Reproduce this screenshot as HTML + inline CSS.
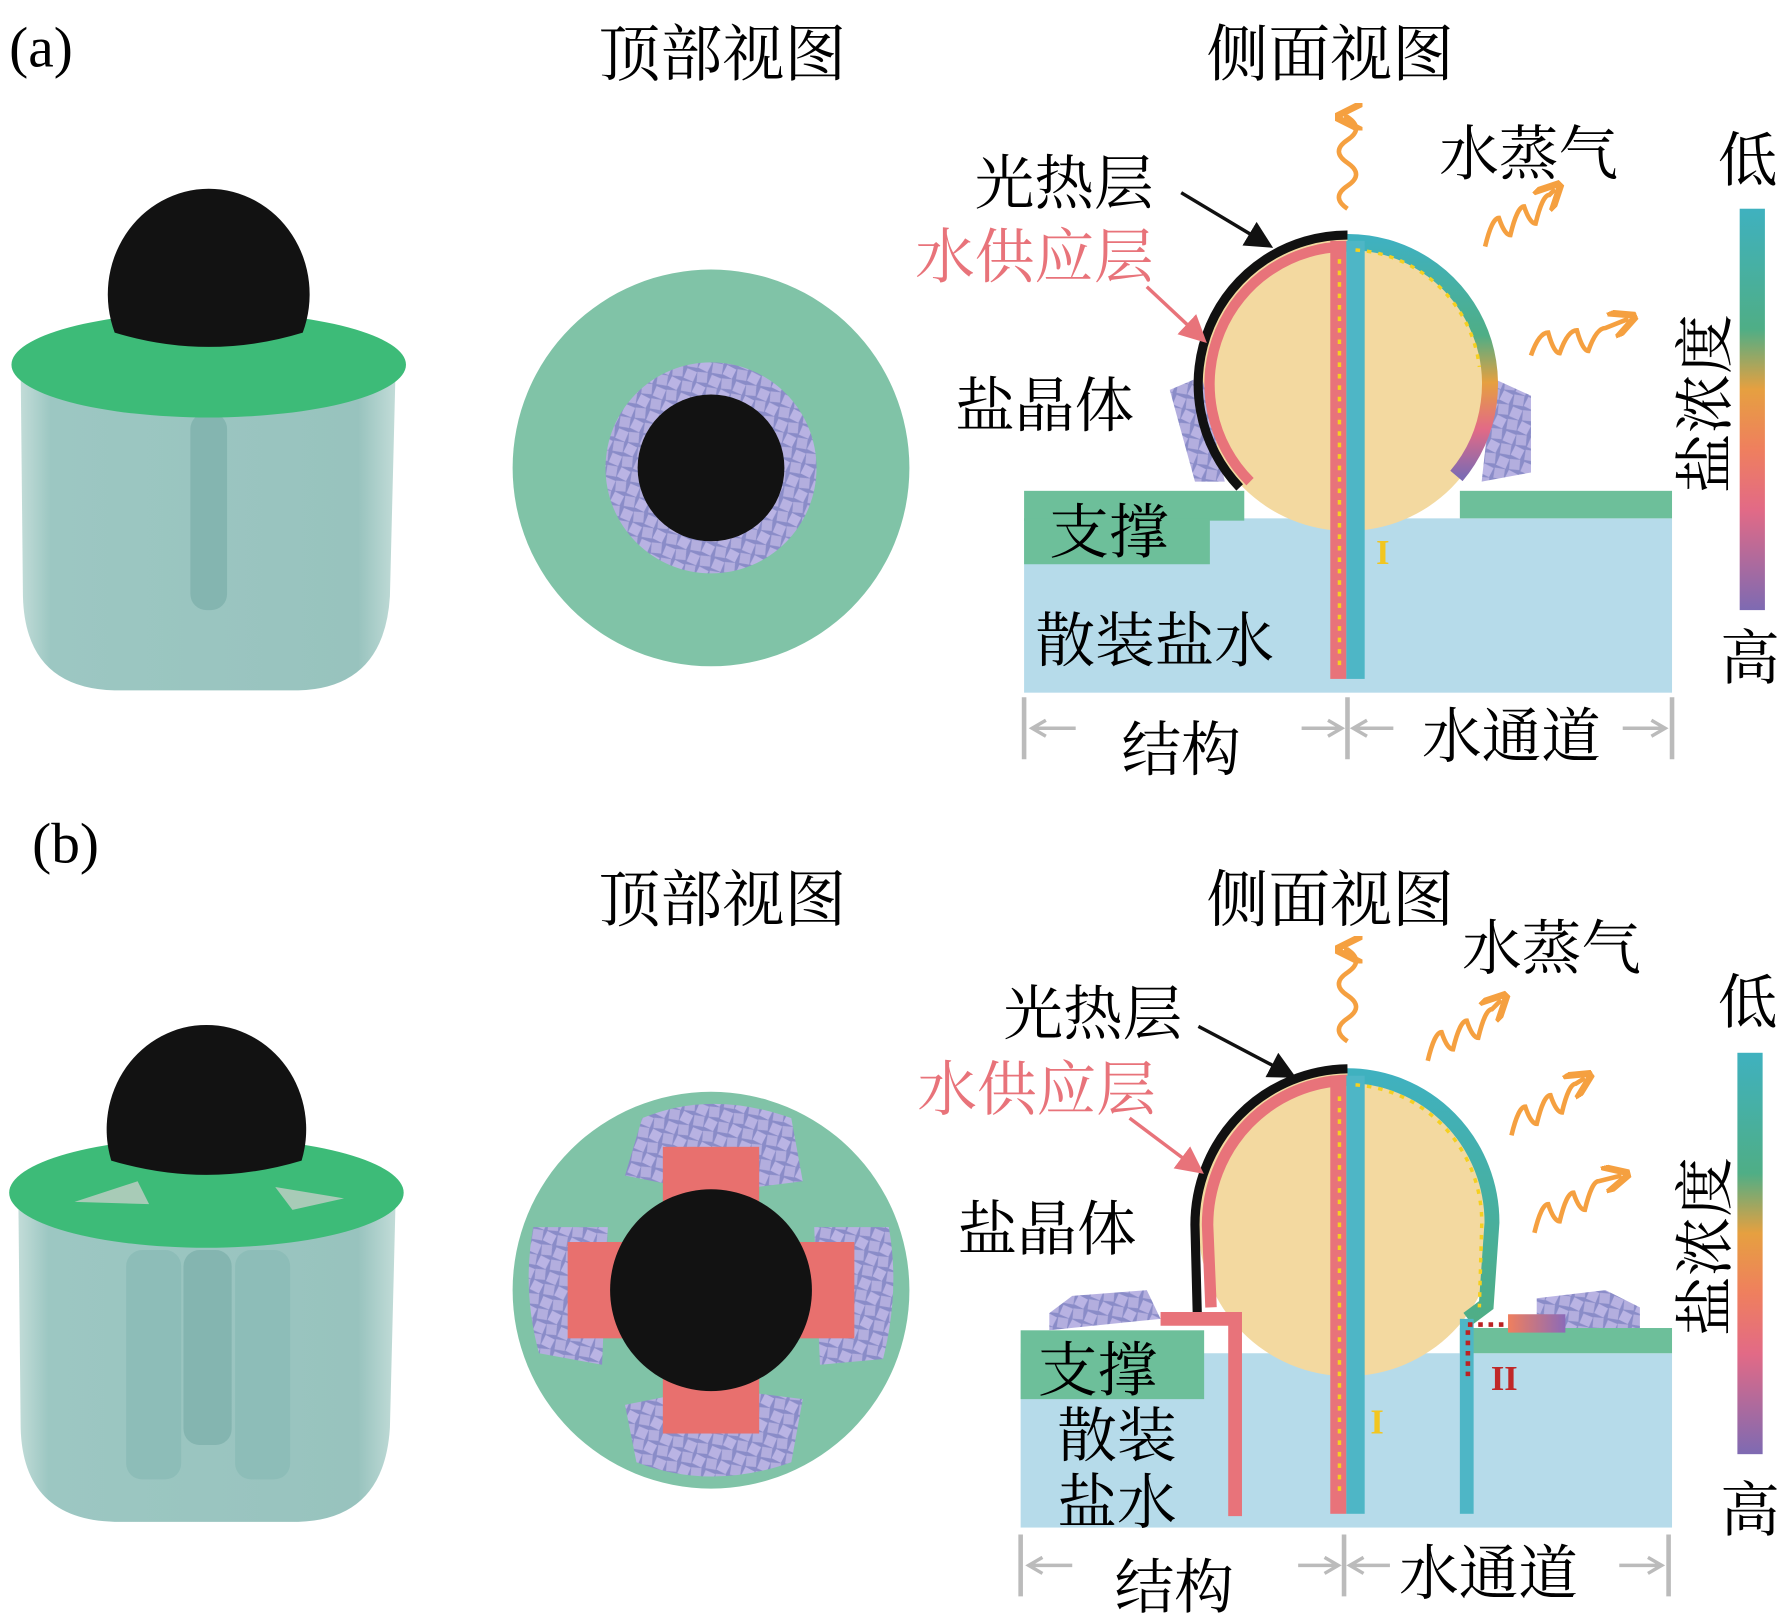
<!DOCTYPE html>
<html><head><meta charset="utf-8"><style>
html,body{margin:0;padding:0;background:#fff;}
svg{display:block;}
text{font-family:"Liberation Serif","Noto Serif CJK SC",serif;}
</style></head><body>
<svg width="1789" height="1613" viewBox="0 0 1560 1406.5" preserveAspectRatio="none" xmlns="http://www.w3.org/2000/svg">
<defs>
<pattern id="cry" width="22" height="22" patternUnits="userSpaceOnUse" patternTransform="rotate(15)">
<rect width="22" height="22" fill="#8a8cc8"/>
<rect x="1.5" y="1.5" width="9" height="9" fill="#b8b2e2" transform="rotate(8 6 6)"/>
<rect x="12" y="1" width="9" height="9" fill="#b3aede" transform="rotate(-10 16 5)"/>
<rect x="1" y="12" width="9" height="9" fill="#b3aede" transform="rotate(-6 5 16)"/>
<rect x="12" y="12" width="9" height="9" fill="#bab4e4" transform="rotate(12 16 16)"/>
</pattern>
<linearGradient id="cbar" x1="0" y1="0" x2="0" y2="1">
<stop offset="0" stop-color="#3fb1bf"/><stop offset="0.3" stop-color="#4fae86"/>
<stop offset="0.45" stop-color="#e6a040"/><stop offset="0.6" stop-color="#ef7f5e"/>
<stop offset="0.75" stop-color="#e26a86"/><stop offset="1" stop-color="#7e6ab2"/>
</linearGradient>
<linearGradient id="arcA" x1="0" y1="0" x2="0" y2="1">
<stop offset="0" stop-color="#3fb1bf"/><stop offset="0.4" stop-color="#4fae86"/>
<stop offset="0.6" stop-color="#e6a040"/><stop offset="0.8" stop-color="#e26a86"/><stop offset="1" stop-color="#7e6ab2"/>
</linearGradient>
<linearGradient id="arcB" x1="0" y1="0" x2="0" y2="1">
<stop offset="0" stop-color="#3fb1bf"/><stop offset="1" stop-color="#4fae86"/>
</linearGradient>
<linearGradient id="cup" x1="0" y1="0" x2="1" y2="0">
<stop offset="0" stop-color="#c2dcd8"/><stop offset="0.08" stop-color="#9cc7c2"/><stop offset="0.9" stop-color="#98c3be"/><stop offset="1" stop-color="#c2dcd8"/>
</linearGradient>
<linearGradient id="redarr" x1="0" y1="0" x2="1" y2="0">
<stop offset="0" stop-color="#ef7f5e"/><stop offset="1" stop-color="#8c6ab8"/>
</linearGradient>
<marker id="ab" markerWidth="8" markerHeight="8" refX="6" refY="4" orient="auto"><path d="M0,0 L8,4 L0,8 Z" fill="#111"/></marker>
<marker id="ap" markerWidth="8" markerHeight="8" refX="6" refY="4" orient="auto"><path d="M0,0 L8,4 L0,8 Z" fill="#e8737a"/></marker>
<marker id="ao" markerWidth="6" markerHeight="6" refX="4" refY="3" orient="auto"><path d="M0,0 L6,3 L0,6" fill="none" stroke="#f5a040" stroke-width="1.5"/></marker>
</defs>

<!-- ===== (a) ===== -->
<text x="8" y="58" font-size="50">(a)</text>
<text x="630" y="66" font-size="54" text-anchor="middle">顶部视图</text>
<text x="1160" y="66" font-size="54" text-anchor="middle">侧面视图</text>

<path d="M18,320 L345,320 L340,520 Q335,600 260,602 L100,602 Q22,600 20,520 Z" fill="url(#cup)"/>
<rect x="166" y="360" width="32" height="172" rx="14" fill="#84b5b0"/>
<ellipse cx="182" cy="318" rx="172" ry="46" fill="#3dbb78"/>
<path d="M100,290 A88,92 0 1 1 264,290 Q182,315 100,290 Z" fill="#121212"/>

<circle cx="620" cy="408" r="173" fill="#80c3a7"/>
<circle cx="620" cy="408" r="92" fill="url(#cry)"/>
<circle cx="620" cy="408" r="64" fill="#121212"/>

<rect x="893" y="452" width="565" height="152" fill="#b6dbea"/>
<rect x="893" y="428" width="192" height="26" fill="#6dbf9a"/>
<rect x="893" y="452" width="162" height="40" fill="#6dbf9a"/>
<rect x="1273" y="428" width="185" height="24" fill="#6dbf9a"/>
<circle cx="1175" cy="335" r="128" fill="#f3d9a0"/>
<path d="M1020,340 L1048,328 L1068,420 L1042,420 Z" fill="url(#cry)"/>
<path d="M1302,330 L1335,345 L1335,412 L1292,420 Z" fill="url(#cry)"/>
<path d="M1175,205 A130,130 0 0 0 1081,425" fill="none" stroke="#111" stroke-width="8"/>
<path d="M1175,215 A120,120 0 0 0 1090,420" fill="none" stroke="#e8737a" stroke-width="9"/>
<path d="M1175,211 A124,124 0 0 1 1270,415" fill="none" stroke="url(#arcA)" stroke-width="14"/>
<rect x="1160" y="210" width="14" height="382" fill="#e8737a"/>
<rect x="1174" y="210" width="16" height="382" fill="#4eb6c6"/>
<line x1="1168" y1="580" x2="1168" y2="220" stroke="#f5d020" stroke-width="3" stroke-dasharray="4,6"/>
<path d="M1182,218 A116,116 0 0 1 1290,320" fill="none" stroke="#f5d020" stroke-width="3" stroke-dasharray="4,6"/>
<text x="1200" y="492" font-size="30" fill="#f2c620" font-weight="bold">I</text>
<line x1="893" y1="608" x2="893" y2="662" stroke="#bbb" stroke-width="4"/>
<line x1="1175" y1="608" x2="1175" y2="662" stroke="#bbb" stroke-width="4"/>
<line x1="1458" y1="608" x2="1458" y2="662" stroke="#bbb" stroke-width="4"/>
<path d="M900,635 L938,635 M912,628 L900,635 L912,642" stroke="#bbb" stroke-width="3" fill="none"/>
<path d="M1135,635 L1170,635 M1158,628 L1170,635 L1158,642" stroke="#bbb" stroke-width="3" fill="none"/>
<path d="M1180,635 L1215,635 M1192,628 L1180,635 L1192,642" stroke="#bbb" stroke-width="3" fill="none"/>
<path d="M1415,635 L1452,635 M1440,628 L1452,635 L1440,642" stroke="#bbb" stroke-width="3" fill="none"/>
<text x="978" y="672" font-size="52">结构</text>
<text x="1240" y="660" font-size="52">水通道</text>
<text x="915" y="482" font-size="52">支撑</text>
<text x="903" y="577" font-size="52">散装盐水</text>
<text x="850" y="178" font-size="52">光热层</text>
<text x="798" y="242" font-size="52" fill="#e8737a">水供应层</text>
<text x="833" y="372" font-size="52">盐晶体</text>
<text x="1255" y="152" font-size="52">水蒸气</text>
<line x1="1030" y1="168" x2="1105" y2="213" stroke="#111" stroke-width="3" marker-end="url(#ab)"/>
<line x1="1000" y1="250" x2="1048" y2="295" stroke="#e8737a" stroke-width="3" marker-end="url(#ap)"/>
<path d="M1175,182 q-15,-10 0,-20 q15,-10 0,-20 q-15,-10 0,-20 q15,-10 0,-20 L1172,102" fill="none" stroke="#f5a040" stroke-width="4" marker-end="url(#ao)"/>
<path d="M1295,215 q6,-25 12,-25 q5,15 10,15 q6,-25 12,-25 q5,15 10,15 q6,-25 12,-25 l5,-5" fill="none" stroke="#f5a040" stroke-width="4" marker-end="url(#ao)"/>
<path d="M1335,310 q7,-20 15,-20 q5,18 10,18 q7,-20 15,-20 q5,18 10,18 q7,-20 15,-20 l20,-8" fill="none" stroke="#f5a040" stroke-width="4" marker-end="url(#ao)"/>
<rect x="1517" y="182" width="22" height="350" fill="url(#cbar)"/>
<text x="1498" y="158" font-size="52">低</text>
<text x="1500" y="592" font-size="52">高</text>
<text transform="translate(1505,430) rotate(-90)" font-size="52">盐浓度</text>

<!-- ===== (b) ===== -->
<text x="28" y="752" font-size="50">(b)</text>
<text x="630" y="803" font-size="54" text-anchor="middle">顶部视图</text>
<text x="1160" y="803" font-size="54" text-anchor="middle">侧面视图</text>

<path d="M16,1045 L345,1045 L340,1245 Q335,1325 260,1327 L100,1327 Q20,1325 18,1245 Z" fill="url(#cup)"/>
<rect x="110" y="1090" width="48" height="200" rx="14" fill="#8dbdb8"/>
<rect x="205" y="1090" width="48" height="200" rx="14" fill="#8dbdb8"/>
<rect x="160" y="1090" width="42" height="170" rx="14" fill="#84b5b0"/>
<ellipse cx="180" cy="1040" rx="172" ry="48" fill="#3dbb78"/>
<path d="M65,1048 L120,1030 L130,1050 Z M240,1035 L300,1045 L255,1055 Z" fill="#a8cbb7"/>
<path d="M97,1012 A87,91 0 1 1 263,1012 Q180,1037 97,1012 Z" fill="#121212"/>

<circle cx="620" cy="1125" r="173" fill="#80c3a7"/>
<path d="M560,975 Q620,950 690,975 L700,1030 L620,1040 L545,1025 Z" fill="url(#cry)"/>
<path d="M555,1275 Q620,1300 690,1275 L700,1220 L620,1210 L545,1225 Z" fill="url(#cry)"/>
<path d="M465,1070 Q455,1125 470,1180 L525,1190 L530,1070 Z" fill="url(#cry)"/>
<path d="M775,1070 Q785,1125 770,1185 L715,1190 L710,1070 Z" fill="url(#cry)"/>
<rect x="578" y="1000" width="84" height="250" fill="#e8706e"/>
<rect x="495" y="1083" width="250" height="84" fill="#e8706e"/>
<circle cx="620" cy="1125" r="88" fill="#121212"/>

<rect x="890" y="1180" width="568" height="152" fill="#b6dbea"/>
<rect x="890" y="1160" width="160" height="60" fill="#6dbf9a"/>
<rect x="1273" y="1158" width="185" height="22" fill="#6dbf9a"/>
<ellipse cx="1175" cy="1068" rx="130" ry="132" fill="#f3d9a0"/>
<path d="M915,1145 L935,1130 L1000,1125 L1012,1150 L915,1160 Z" fill="url(#cry)"/>
<path d="M1340,1132 L1400,1125 L1430,1140 L1430,1158 L1340,1158 Z" fill="url(#cry)"/>
<path d="M1175,932 A135,136 0 0 0 1042,1068 L1044,1145" fill="none" stroke="#111" stroke-width="8"/>
<path d="M1175,942 A124,126 0 0 0 1053,1068 L1056,1140" fill="none" stroke="#e8737a" stroke-width="10"/>
<path d="M1012,1150 L1077,1150 L1077,1322" fill="none" stroke="#e8737a" stroke-width="12"/>
<path d="M1175,938 A126,128 0 0 1 1301,1066 L1296,1138 L1280,1150" fill="none" stroke="url(#arcB)" stroke-width="13"/>
<rect x="1273" y="1150" width="12" height="170" fill="#4eb6c6"/>
<rect x="1160" y="938" width="14" height="382" fill="#e8737a"/>
<rect x="1174" y="938" width="16" height="382" fill="#4eb6c6"/>
<line x1="1168" y1="1300" x2="1168" y2="950" stroke="#f5d020" stroke-width="3" stroke-dasharray="4,6"/>
<path d="M1182,946 A118,120 0 0 1 1292,1070 L1290,1140" fill="none" stroke="#f5d020" stroke-width="3" stroke-dasharray="4,6"/>
<line x1="1280" y1="1155" x2="1320" y2="1155" stroke="#b22" stroke-width="4" stroke-dasharray="4,5"/>
<line x1="1280" y1="1160" x2="1280" y2="1200" stroke="#b22" stroke-width="4" stroke-dasharray="4,5"/>
<rect x="1315" y="1146" width="50" height="16" fill="url(#redarr)"/>
<text x="1300" y="1212" font-size="30" fill="#c02828" font-weight="bold">II</text>
<text x="1195" y="1250" font-size="30" fill="#f2c620" font-weight="bold">I</text>
<line x1="890" y1="1338" x2="890" y2="1392" stroke="#bbb" stroke-width="4"/>
<line x1="1172" y1="1338" x2="1172" y2="1392" stroke="#bbb" stroke-width="4"/>
<line x1="1455" y1="1338" x2="1455" y2="1392" stroke="#bbb" stroke-width="4"/>
<path d="M897,1365 L935,1365 M909,1358 L897,1365 L909,1372" stroke="#bbb" stroke-width="3" fill="none"/>
<path d="M1132,1365 L1167,1365 M1155,1358 L1167,1365 L1155,1372" stroke="#bbb" stroke-width="3" fill="none"/>
<path d="M1177,1365 L1212,1365 M1189,1358 L1177,1365 L1189,1372" stroke="#bbb" stroke-width="3" fill="none"/>
<path d="M1412,1365 L1449,1365 M1437,1358 L1449,1365 L1437,1372" stroke="#bbb" stroke-width="3" fill="none"/>
<text x="972" y="1402" font-size="52">结构</text>
<text x="1220" y="1390" font-size="52">水通道</text>
<text x="905" y="1213" font-size="52">支撑</text>
<text x="922" y="1270" font-size="52">散装</text>
<text x="922" y="1328" font-size="52">盐水</text>
<text x="875" y="902" font-size="52">光热层</text>
<text x="800" y="968" font-size="52" fill="#e8737a">水供应层</text>
<text x="835" y="1090" font-size="52">盐晶体</text>
<text x="1275" y="845" font-size="52">水蒸气</text>
<line x1="1045" y1="895" x2="1125" y2="937" stroke="#111" stroke-width="3" marker-end="url(#ab)"/>
<line x1="985" y1="975" x2="1045" y2="1020" stroke="#e8737a" stroke-width="3" marker-end="url(#ap)"/>
<path d="M1175,908 q-15,-10 0,-20 q15,-10 0,-20 q-15,-10 0,-20 q15,-10 0,-20 L1172,828" fill="none" stroke="#f5a040" stroke-width="4" marker-end="url(#ao)"/>
<path d="M1245,925 q6,-25 12,-25 q5,15 10,15 q6,-25 12,-25 q5,15 10,15 q6,-25 12,-25 l8,-8" fill="none" stroke="#f5a040" stroke-width="4" marker-end="url(#ao)"/>
<path d="M1318,990 q6,-25 12,-25 q5,15 10,15 q6,-25 12,-25 q5,15 10,15 q6,-25 12,-25 l8,-5" fill="none" stroke="#f5a040" stroke-width="4" marker-end="url(#ao)"/>
<path d="M1338,1075 q6,-25 12,-25 q5,15 10,15 q6,-25 12,-25 q5,15 10,15 q6,-25 12,-25 l20,-5" fill="none" stroke="#f5a040" stroke-width="4" marker-end="url(#ao)"/>
<rect x="1515" y="918" width="22" height="350" fill="url(#cbar)"/>
<text x="1498" y="892" font-size="52">低</text>
<text x="1500" y="1335" font-size="52">高</text>
<text transform="translate(1505,1165) rotate(-90)" font-size="52">盐浓度</text>
</svg>
</body></html>
